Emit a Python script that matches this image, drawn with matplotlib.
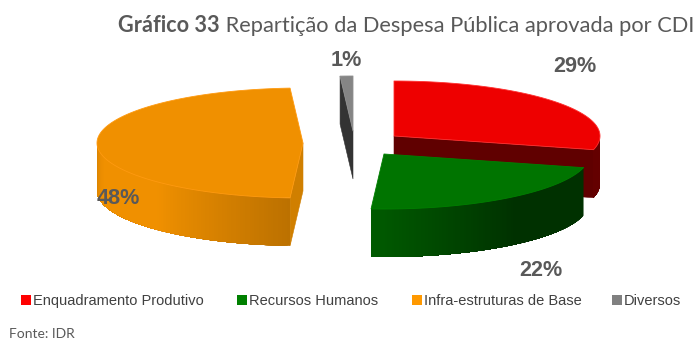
import numpy as np
import matplotlib
matplotlib.use("Agg")
import matplotlib.pyplot as plt
from matplotlib.patches import Polygon, Rectangle

# data
categories = ["Enquadramento Produtivo", "Recursos Humanos", "Infra-estruturas de Base", "Diversos"]
values = [29, 22, 48, 1]
pct_labels = ["29%", "22%", "48%", "1%"]

# style / layout (pixel space)
top_colors = ["#ee0000", "#007400", "#f09000", "#858585"]
cut_colors = ["#600000", "#003000", "#d07f00", "#333333"]
legend_colors = ["#ff0000", "#008000", "#ff9900", "#808080"]
edge_colors = ["#ff3030", "#008000", "#ff9a10", "#909090"]
centers = [(394, 136), (384, 154), (303, 143), (353, 131)]
label_pos = [(575, 66), (541, 270), (118, 198), (346, 61)]
legend_x = [21, 237, 412, 612]
RX, RY, DEPTH = 206, 55, 48
shade_t = [90, 140, 183, 225, 255, 270]
shade_m = [0.42, 0.42, 0.78, 1.0, 1.0, 0.92]
TXT = "#595959"
SANS = "Liberation Sans"

fig = plt.figure(figsize=(6.94, 3.40), dpi=100)
ax = fig.add_axes([0, 0, 1, 1])
ax.set_xlim(0, 694)
ax.set_ylim(340, 0)
ax.axis("off")


def pt(c, deg):
    t = np.radians(deg)
    return c[0] + RX * np.sin(t), c[1] - RY * np.cos(t)


def scale(col, m):
    r, g, b = matplotlib.colors.to_rgb(col)
    return (r * m, g * m, b * m)


edges = np.concatenate([[0], np.cumsum(values)]) * 3.6
draw_order = [3, 0, 2, 1]
for i in draw_order:
    a0, a1 = edges[i], edges[i + 1]
    c = centers[i]
    ths = np.linspace(a0, a1, max(int((a1 - a0) * 2), 3))
    arc = np.array([pt(c, t) for t in ths])
    # visible cut faces
    if i in (0, 2, 3):
        ang = a1 if i == 0 else a0
        p = pt(c, ang)
        ax.add_patch(Polygon([c, p, (p[0], p[1] + DEPTH), (c[0], c[1] + DEPTH)],
                             fc=cut_colors[i], ec=cut_colors[i], lw=0.4, zorder=i + 1))
    # outer wall: overlapping strips so no seams show
    lo, hi = max(a0, 90), min(a1, 270)
    if hi > lo:
        ws = np.linspace(lo, hi, int((hi - lo) * 1.5) + 2)
        for j in range(len(ws) - 1):
            t0 = ws[j]
            t1 = hi  # each strip runs to the far end; later strips paint over it
            col = scale(top_colors[i], np.interp((ws[j] + ws[j + 1]) / 2, shade_t, shade_m))
            seg = np.linspace(t0, t1, max(int(t1 - t0), 1) + 1)
            upper = [pt(c, t) for t in seg]
            lower = [(x, y + DEPTH) for x, y in upper][::-1]
            ax.add_patch(Polygon(upper + lower, fc=col, ec="none", zorder=i + 1))
    # top face
    ax.add_patch(Polygon(np.vstack([[c], arc]), fc=top_colors[i], ec=edge_colors[i],
                         lw=0.6, zorder=i + 1.5, joinstyle="round"))

for txt, (x, y) in zip(pct_labels, label_pos):
    ax.text(x, y, txt, family=SANS, weight="bold", fontsize=15.6, color=TXT,
            ha="center", va="center", zorder=10)

for name, col, x in zip(categories, legend_colors, legend_x):
    ax.add_patch(Rectangle((x, 295), 10, 10, fc=col, ec="none"))
    ax.text(x + 12, 301, name, family=SANS, fontsize=10.55, color="#404040",
            ha="left", va="center")

t1 = ax.text(118, 32, "Gráfico 33", family="Lato", weight="bold", fontsize=15.6,
             color="#595959", ha="left", va="baseline")
ax.annotate(" Repartição da Despesa Pública aprovada por CDI", xy=(1, 0), xycoords=t1,
            va="bottom", ha="left", family="Lato", fontsize=15.75, color="#595959")
ax.text(9, 333.5, "Fonte: IDR", family="Lato", fontsize=10, color="#595959",
        ha="left", va="center")

fig.savefig("out.png", dpi=100)
